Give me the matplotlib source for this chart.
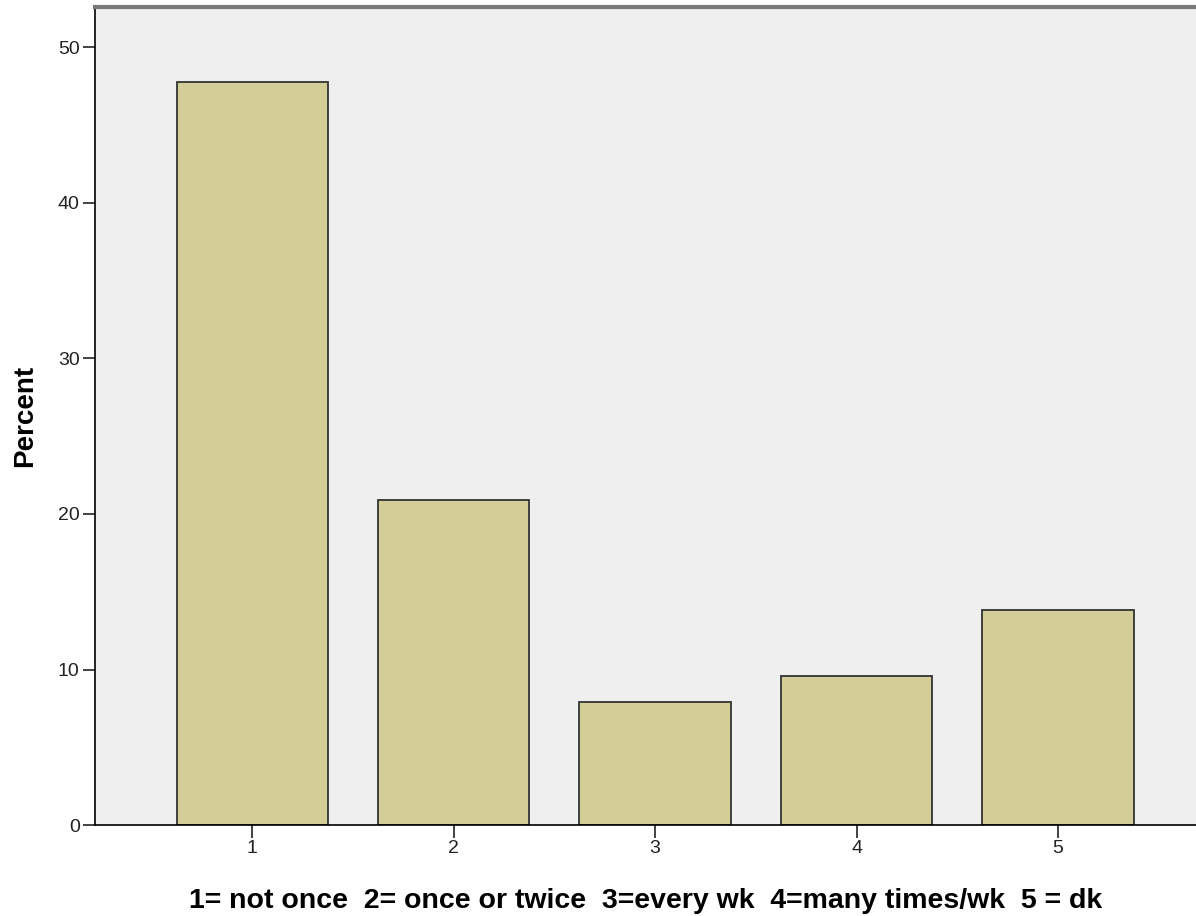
import matplotlib.pyplot as plt

# frequency categories and percents
categories = [1, 2, 3, 4, 5]
percents = [47.8, 20.9, 7.9, 9.6, 13.8]
tick_labels = ['1', '2', '3', '4', '5']
y_ticks = [0, 10, 20, 30, 40, 50]

plt.rcParams['font.family'] = ['Liberation Sans', 'DejaVu Sans']

fig = plt.figure(figsize=(11.96, 9.16), dpi=100)
ax = fig.add_axes([0.0794, 0.0993, 0.9206, 0.8931])
ax.set_facecolor('#efefef')

ax.bar(categories, percents, width=0.75, color='#d3ce97',
       edgecolor='#333333', linewidth=1.3)

ax.set_xlim(0.22, 5.685)
ax.set_ylim(0, 52.6)
ax.set_xticks(categories)
ax.set_xticklabels(tick_labels)
ax.set_yticks(y_ticks)
ax.tick_params(axis='both', direction='out', length=9, width=1.2,
               labelsize=14, color='#222222', labelcolor='#222222', pad=2)

ax.spines['right'].set_visible(False)
ax.spines['top'].set_color('#7a7a7a')
ax.spines['top'].set_linewidth(3)
ax.spines['left'].set_linewidth(1.2)
ax.spines['bottom'].set_linewidth(1.2)

ax.set_ylabel('Percent', fontsize=20, fontweight='bold', labelpad=14)
ax.set_xlabel('1= not once  2= once or twice  3=every wk  4=many times/wk  5 = dk',
              fontsize=20.5, fontweight='bold', labelpad=22)

plt.savefig('out.png', dpi=100)
